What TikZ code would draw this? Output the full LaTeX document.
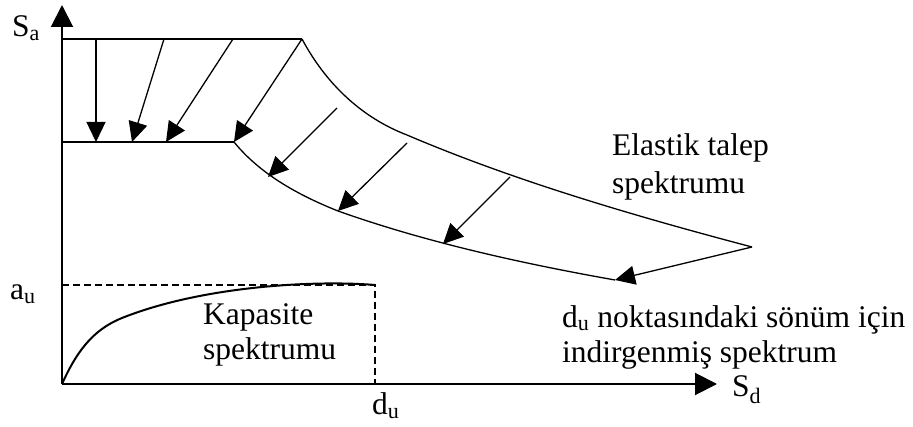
\documentclass[tikz,border=0pt]{standalone}
\usepackage{fontspec}
\setmainfont{Liberation Serif}
\usetikzlibrary{arrows.meta}
\begin{document}
\begin{tikzpicture}[x=1pt,y=-1pt,
  axis/.style={line width=2pt,-{Triangle[length=22pt,width=22pt]}},
  thickline/.style={line width=2pt},
  curve/.style={line width=1.3pt},
  caps/.style={line width=2pt},
  shiftarrow/.style={line width=1.3pt,-{Triangle[length=20pt,width=19pt]}},
  guide/.style={line width=1.3pt,dash pattern=on 7pt off 4pt},
  lbl/.style={font=\fontsize{31.5}{35}\selectfont, inner sep=0pt, align=left}]
\useasboundingbox (0,0) rectangle (913,427);

% axes
\coordinate (O) at (62,384);
\coordinate (ytop) at (62,5);
\coordinate (xend) at (717,384);
\draw[axis] (O) -- (ytop);
\draw[axis] (O) -- (xend);

% elastic spectrum
\coordinate (e0) at (62,39);
\coordinate (e1) at (302,39);
\coordinate (eMid) at (407,135);
\coordinate (eEnd) at (752,247);
\draw[thickline] (e0) -- (e1);
\draw[curve] (e1) .. controls (325,82) and (360,117) .. (eMid)
                  .. controls (517,182) and (642,218) .. (eEnd);

% reduced spectrum
\coordinate (r0) at (62,142);
\coordinate (r1) at (234,142);
\coordinate (rMid) at (338,211);
\coordinate (rEnd) at (615,280);
\draw[thickline] (r0) -- (r1);
\draw[curve] (r1) .. controls (260,174) and (298,195) .. (rMid)
                  .. controls (428,243) and (525,264) .. (rEnd);

% shift arrows
\coordinate (a1s) at (96,39);  \coordinate (a1e) at (96,142);
\coordinate (a2s) at (164,39); \coordinate (a2e) at (132,142);
\coordinate (a3s) at (233,39); \coordinate (a3e) at (166,142);
\coordinate (a5s) at (337,108); \coordinate (a5e) at (268,177);
\coordinate (a6s) at (407,143); \coordinate (a6e) at (338,211);
\coordinate (a7s) at (510,177); \coordinate (a7e) at (443,244);
\draw[shiftarrow] (a1s) -- (a1e);
\draw[shiftarrow] (a2s) -- (a2e);
\draw[shiftarrow] (a3s) -- (a3e);
\draw[shiftarrow] (e1) -- (r1);
\draw[shiftarrow] (a5s) -- (a5e);
\draw[shiftarrow] (a6s) -- (a6e);
\draw[shiftarrow] (a7s) -- (a7e);
\draw[shiftarrow] (eEnd) -- (rEnd);

% capacity spectrum
\coordinate (cMid) at (122,318);
\coordinate (cap) at (375,285);
\coordinate (au) at (62,285);
\coordinate (du) at (375,384);
\draw[caps] (O) .. controls (76,353) and (92,330) .. (cMid)
                .. controls (202,286) and (315,280) .. (cap);
\draw[guide] (au) -- (cap) -- (du);

% labels
\node[lbl,anchor=base west] (Sa) at (12,37) {S\textsubscript{a}};
\node[lbl,anchor=base west] (Sd) at (732,397) {S\textsubscript{d}};
\node[lbl,anchor=base west] (aulbl) at (10,300) {a\textsubscript{u}};
\node[lbl,anchor=base west] (dulbl) at (372,415) {d\textsubscript{u}};
\node[lbl,anchor=west] (kap) at (203,335) {Kapasite\\spektrumu};
\node[lbl,anchor=west,font=\fontsize{31.5}{38}\selectfont] (ela) at (612,167) {Elastik talep\\spektrumu};
\node[lbl,anchor=west] (red) at (562,337) {d\textsubscript{u} noktasındaki sönüm için\\indirgenmiş spektrum};
\end{tikzpicture}
\end{document}
